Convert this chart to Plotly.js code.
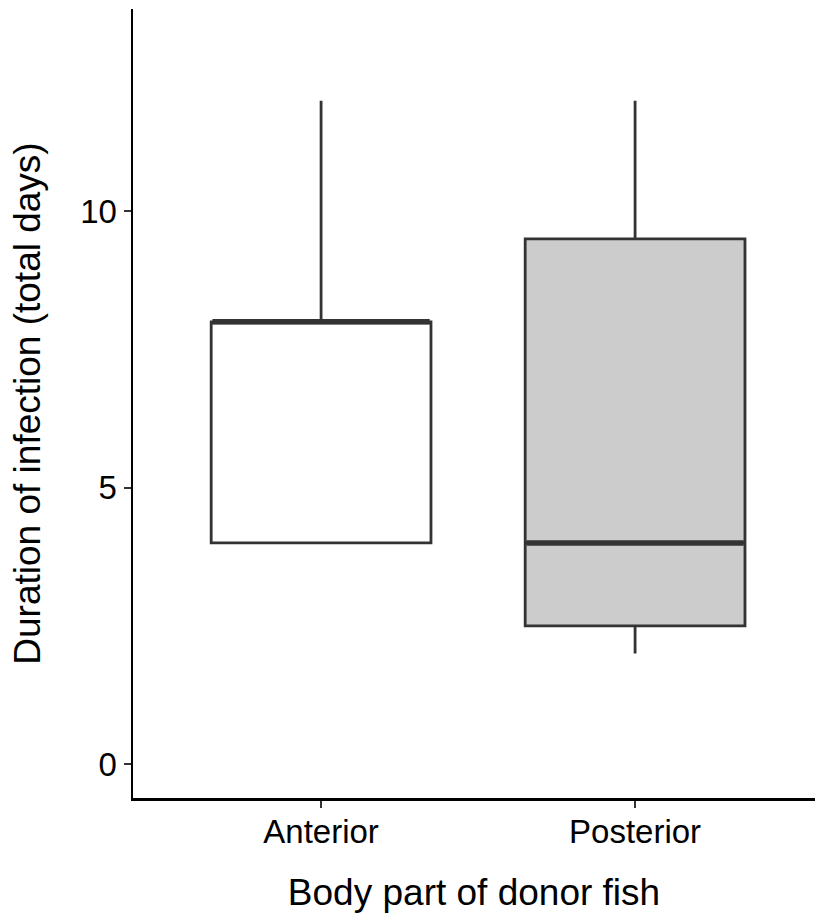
<!DOCTYPE html>
<html>
<head>
<meta charset="utf-8">
<script src="https://cdn.plot.ly/plotly-3.0.1.min.js"></script>
<style>html,body{margin:0;padding:0;background:#fff;}#chart{width:815px;height:917px;}</style>
</head>
<body>
<div id="chart"></div>
<script>
const categories = ["Anterior", "Posterior"];
const lowerWhisker = [4, 2];
const q1 = [4, 2.5];
const median = [8, 4];
const q3 = [8, 9.5];
const upperWhisker = [12, 12];
const fills = ["#ffffff", "#cccccc"];
const yTicks = [0, 5, 10];

const boxWidth = 0.7;
const traces = [];
categories.forEach((c, i) => {
  traces.push({
    type: "box",
    x: [i],
    q1: [q1[i]], median: [median[i]], q3: [q3[i]],
    lowerfence: [lowerWhisker[i]], upperfence: [upperWhisker[i]],
    width: boxWidth,
    whiskerwidth: 0,
    fillcolor: fills[i],
    line: {color: "#333333", width: 2.8},
    hoverinfo: "skip",
    showlegend: false
  });
});
categories.forEach((c, i) => {
  traces.push({
    type: "scatter", mode: "lines",
    x: [i - boxWidth / 2 + 0.004, i + boxWidth / 2 - 0.004],
    y: [median[i], median[i]],
    line: {color: "#333333", width: 5.5},
    hoverinfo: "skip", showlegend: false
  });
});

const layout = {
  width: 815, height: 917,
  margin: {l: 133, r: 0, t: 9, b: 119},
  paper_bgcolor: "#ffffff", plot_bgcolor: "#ffffff",
  font: {family: "Liberation Sans, Arial, sans-serif", color: "#000000"},
  showlegend: false,
  xaxis: {
    range: [-0.599, 1.573],
    tickvals: [0, 1], ticktext: categories,
    showgrid: false, zeroline: false,
    showline: true, linecolor: "#000000", linewidth: 2.5,
    ticks: "outside", ticklen: 7, tickwidth: 2, tickcolor: "#333333",
    tickfont: {size: 33, color: "#000000"},
    ticklabelstandoff: -4,
    title: {text: "Body part of donor fish", font: {size: 37, color: "#000000"}, standoff: 30}
  },
  yaxis: {
    range: [-0.616, 13.66],
    tickvals: yTicks, ticktext: yTicks.map(String),
    showgrid: false, zeroline: false,
    showline: true, linecolor: "#000000", linewidth: 2.5,
    ticks: "outside", ticklen: 7, tickwidth: 2, tickcolor: "#333333",
    tickfont: {size: 33, color: "#000000"},
    title: {text: "Duration of infection (total days)", font: {size: 37, color: "#000000"}, standoff: 28}
  }
};
Plotly.newPlot("chart", traces, layout, {displayModeBar: false, staticPlot: true});
</script>
</body>
</html>
